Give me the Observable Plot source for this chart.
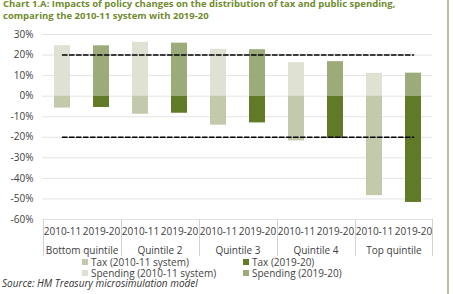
<!DOCTYPE html>
<html>
<head>
<meta charset="utf-8">
<script src="https://cdn.jsdelivr.net/npm/d3@7"></script>
<script src="https://cdn.jsdelivr.net/npm/@observablehq/plot@0.6"></script>
<style>
  body { margin: 0; background: #fff; font-family: "Open Sans", sans-serif; }
  #wrap { position: relative; width: 453px; height: 294px; overflow: hidden; background: #fff; }
  #title { position: absolute; left: 3px; top: -2px; font-weight: bold; font-size: 9.5px; line-height: 11.5px; color: #6f8c2f; z-index: 2; white-space: nowrap; }
  #chart { position: absolute; left: 0; top: 0; }
  #legend { position: absolute; left: 82px; top: 256.5px; display: grid; grid-template-columns: 161px auto; font-size: 10px; line-height: 11px; color: #444; z-index: 2; }
  .item { display: flex; align-items: center; height: 11px; white-space: nowrap; }
  .sw { width: 6px; height: 6px; margin-right: 3px; flex: none; }
  #source { position: absolute; left: 2px; top: 278px; font-size: 10px; line-height: 11px; font-style: italic; color: #333; z-index: 2; }
  #edge { position: absolute; left: 447px; top: 0; width: 2px; height: 294px; background: #b9c19f; }
</style>
</head>
<body>
<div id="wrap">
  <div id="title">Chart 1.A: Impacts of policy changes on the distribution of tax and public spending,<br>comparing the 2010-11 system with 2019-20</div>
  <div id="chart"></div>
  <div id="legend"></div>
  <div id="source">Source: HM Treasury microsimulation model</div>
  <div id="edge"></div>
</div>
<script>
// Income groups and the two systems compared within each
const groups = ["Bottom quintile", "Quintile 2", "Quintile 3", "Quintile 4", "Top quintile"];
const years = ["2010-11", "2019-20"];

// Change as a share of net income (%), by quintile
const spending2010 = [24.6, 26.2, 22.8, 16.3, 11.1];
const spending2019 = [24.5, 25.8, 22.6, 16.8, 11.2];
const tax2010 = [-5.8, -8.8, -14.1, -21.8, -48.4];
const tax2019 = [-5.5, -8.3, -13.0, -20.6, -51.7];

// Reference levels drawn as dashed lines
const thresholds = [20, -20];

const yTicks = [-60, -50, -40, -30, -20, -10, 0, 10, 20, 30];

const series = ["Tax (2010-11 system)", "Tax (2019-20)", "Spending (2010-11 system)", "Spending (2019-20)"];
const colors = ["#c3c9ab", "#607a28", "#dfe2d3", "#9cab79"];

// Build the long table for the bars
const key = (g, y) => g + "|" + y;
const keys = groups.flatMap(g => years.map(y => key(g, y)));
const bars = [];
groups.forEach((g, i) => {
  bars.push({key: key(g, years[0]), series: series[2], value: spending2010[i]});
  bars.push({key: key(g, years[0]), series: series[0], value: tax2010[i]});
  bars.push({key: key(g, years[1]), series: series[3], value: spending2019[i]});
  bars.push({key: key(g, years[1]), series: series[1], value: tax2019[i]});
});

const firstKey = keys[0], lastKey = keys[keys.length - 1];
const refLines = thresholds.flatMap(v => [{k: firstKey, v}, {k: lastKey, v}]);

const W = 453, H = 258, mL = 42, mR = 21, mT = 34, mB = 39;
const step = (W - mL - mR) / keys.length;
const half = Math.floor(step / 2);
const yMin = yTicks[0], yMax = yTicks[yTicks.length - 1];

// The category table below the axis reaches 37px under the frame;
// express that depth in y units so the separators extend past the domain.
const pxPerUnit = (H - mT - mB) / (yMax - yMin);
const sepBottom = yMin - 37 / pxPerUnit;

const chart = Plot.plot({
  width: W, height: H,
  marginLeft: mL, marginRight: mR, marginTop: mT, marginBottom: mB,
  style: {background: "transparent", fontFamily: "Open Sans", fontSize: "10px", color: "#404040"},
  x: {domain: keys, paddingInner: 0.59, paddingOuter: 0.295, tickSize: 0, tickPadding: 8,
      tickFormat: k => k.split("|")[1], label: null},
  y: {domain: [yMin, yMax], ticks: yTicks, tickFormat: d => d + "%",
      tickSize: 0, tickPadding: 9, label: null},
  color: {domain: series, range: colors},
  marks: [
    Plot.ruleY(yTicks, {stroke: "#e3e3e3"}),
    Plot.barY(bars, {x: "key", y: "value", fill: "series"}),
    Plot.lineY(refLines, {x: "k", y: "v", z: "v", stroke: "#000", strokeWidth: 1.6, strokeDasharray: "4.5,2.5"}),
    // category separators below the axis
    Plot.ruleX(groups, {x: g => key(g, years[0]), dx: -half, y1: () => yMin, y2: () => sepBottom,
      stroke: "#d2d2d2"}),
    Plot.ruleX([lastKey], {x: d => d, dx: half, y1: () => yMin, y2: () => sepBottom,
      stroke: "#d2d2d2"}),
    // quintile labels
    Plot.text(groups, {x: g => key(g, years[0]), dx: step / 2, y: () => yMin, dy: 31,
      text: d => d, fill: "#404040", fontSize: 10})
  ]
});
document.getElementById("chart").appendChild(chart);

// Legend
const legend = document.getElementById("legend");
series.forEach((s, i) => {
  const item = document.createElement("div");
  item.className = "item";
  const sw = document.createElement("span");
  sw.className = "sw";
  sw.style.background = colors[i];
  item.appendChild(sw);
  item.appendChild(document.createTextNode(s));
  legend.appendChild(item);
});
</script>
</body>
</html>
